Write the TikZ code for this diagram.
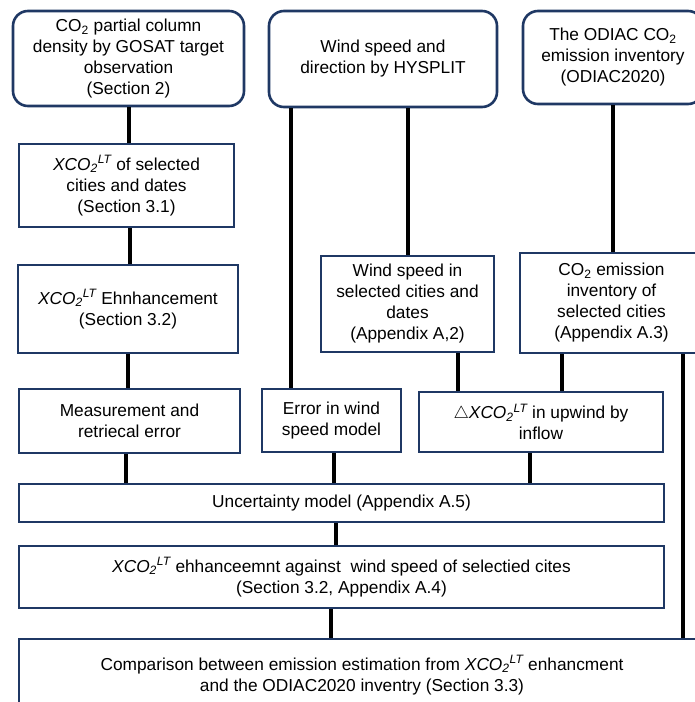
\documentclass[tikz,border=0pt]{standalone}
\usepackage{fontspec}
\setmainfont{Liberation Sans}
\usepackage{tikz}
\definecolor{boxblue}{HTML}{1F3864}
\newcommand{\xcolt}{\textit{XCO\textsubscript{2}\textsuperscript{LT}}}

\begin{document}
\begin{tikzpicture}[x=1pt, y=-1pt,
    box/.style={draw=boxblue, line width=2.6pt, fill=white, align=center, inner sep=2pt,
        font=\fontsize{17.3}{21}\selectfont},
    srcbox/.style={box, rounded corners=15pt},
    link/.style={line width=4pt, black}]
    \useasboundingbox (0,0) rectangle (695,702);
    \clip (0,0) rectangle (695,702);
    % Sources
    \node[srcbox, minimum width=231pt, minimum height=95pt] (Src-1) at (128.5,58.5)
        {CO\textsubscript{2} partial column\\density by GOSAT target\\observation\\(Section 2)};
    \node[srcbox, minimum width=228pt, minimum height=96pt] (Src-2) at (383,59)
        {Wind speed and\\direction by HYSPLIT};
    \node[srcbox, minimum width=180pt, minimum height=93pt] (Src-3) at (613,57.5)
        {The ODIAC CO\textsubscript{2}\\emission inventory\\(ODIAC2020)};
    % Selected cities and dates
    \node[box, minimum width=215pt, minimum height=83pt] (Sel-1) at (126.5,185.5)
        {\xcolt{} of selected\\cities and dates\\(Section 3.1)};
    \node[box, minimum width=220pt, minimum height=88pt] (Enh) at (128,309)
        {\xcolt{} Ehnhancement\\(Section 3.2)};
    \node[box, minimum width=173pt, minimum height=96pt] (Sel-2) at (407.5,304)
        {Wind speed in\\selected cities and\\dates\\(Appendix A,2)};
    \node[box, minimum width=183pt, minimum height=100pt] (Sel-3) at (611.5,303)
        {CO\textsubscript{2} emission\\inventory of\\selected cities\\(Appendix A.3)};
    % Error sources
    \node[box, minimum width=221pt, minimum height=64pt] (Err-1) at (129.5,421)
        {Measurement and\\retriecal error};
    \node[box, minimum width=139pt, minimum height=63pt] (Err-2) at (331.5,420.5)
        {Error in wind\\speed model};
    \node[box, minimum width=244pt, minimum height=60pt] (Err-3) at (541,422)
        {$\triangle$\xcolt{} in upwind by\\inflow};
    % Results
    \node[box, minimum width=645pt, minimum height=38pt] (Unc) at (341.5,503)
        {Uncertainty model (Appendix A.5)};
    \node[box, minimum width=645pt, minimum height=62pt] (Wind) at (341.5,577)
        {\xcolt{} ehhanceemnt against \ wind speed of selectied cites\\(Section 3.2, Appendix A.4)};
    \node[box, minimum width=686pt, minimum height=72pt] (Comp) at (362,675)
        {Comparison between emission estimation from \xcolt{} enhancment\\and the ODIAC2020 inventry (Section 3.3)};
    % Links
    \foreach \a/\b/\s in {Src-1/Sel-1/0, Sel-1/Enh/3, Enh/Err-1/0, Err-1/Unc/-4,
                          Src-3/Sel-3/0, Err-2/Unc/2, Err-3/Unc/-11, Unc/Wind/-6, Wind/Comp/-11} {
        \draw[link] ([xshift=\s pt]\a.south) -- ([xshift=\s pt]\a.south |- \b.north);
    }
    \coordinate (w1) at ([xshift=30pt]Err-2.north west);
    \draw[link] (w1) -- (w1 |- Src-2.south);
    \draw[link] (Sel-2.north) -- (Sel-2.north |- Src-2.south);
    \foreach \a/\s in {Sel-2/50.5, Sel-3/-49.5} {
        \draw[link] ([xshift=\s pt]\a.south) -- ([xshift=\s pt]\a.south |- Err-3.north);
    }
    \draw[link] ([xshift=71.5pt]Sel-3.south) -- ([xshift=71.5pt]Sel-3.south |- Comp.north);
\end{tikzpicture}
\end{document}
